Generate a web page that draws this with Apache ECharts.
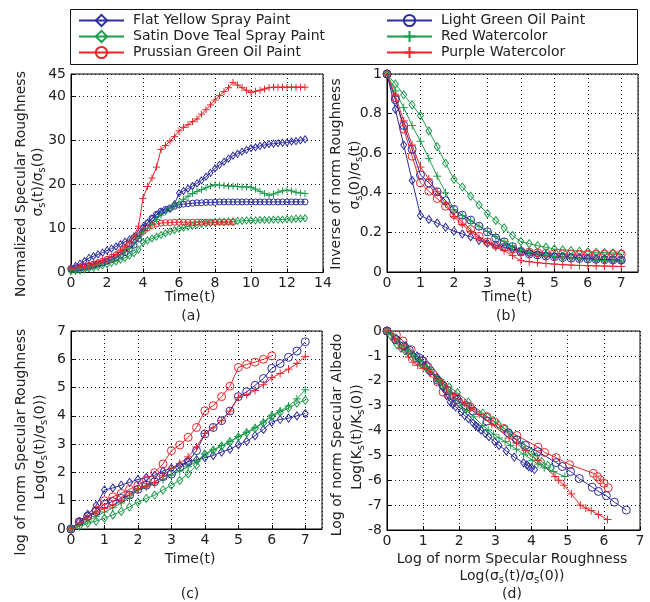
<!DOCTYPE html>
<html><head><meta charset="utf-8">
<script src="https://cdn.jsdelivr.net/npm/echarts/dist/echarts.min.js"></script>
<style>html,body{margin:0;padding:0;background:#fff}#c{width:650px;height:602px}</style>
</head><body><div id="c"></div>
<script>
// ---------- data ----------
const seriesNames = ['Flat Yellow Spray Paint','Satin Dove Teal Spray Paint','Prussian Green Oil Paint','Light Green Oil Paint','Red Watercolor','Purple Watercolor'];

// panel (a): time axis 0..13
const tA = [0,0.25,0.5,0.75,1,1.25,1.5,1.75,2,2.25,2.5,2.75,3,3.25,3.5,3.75,4,4.25,4.5,4.75,5,5.25,5.5,5.75,6,6.25,6.5,6.75,7,7.25,7.5,7.75,8,8.25,8.5,8.75,9,9.25,9.5,9.75,10,10.25,10.5,10.75,11,11.25,11.5,11.75,12,12.25,12.5,12.75,13];
const flatA = [1.0,1.5,2.0,2.6,3.3,3.7,4.1,4.5,5.0,5.4,5.9,6.4,7.0,7.5,8.1,8.8,10.3,11.3,12.2,13.0,13.6,14.0,14.4,15.5,18.0,18.5,19.0,19.6,20.2,20.9,21.7,22.6,23.6,24.4,25.1,25.8,26.5,26.9,27.4,27.8,28.2,28.4,28.7,28.9,29.1,29.2,29.3,29.4,29.5,29.7,29.8,30.0,30.2];
const satinA = [0.3,0.4,0.5,0.7,0.9,1.1,1.3,1.6,1.9,2.2,2.5,2.9,3.3,3.8,4.4,5.2,6.8,7.3,7.7,8.1,8.5,8.9,9.3,9.6,9.9,10.2,10.4,10.6,10.8,11.0,11.1,11.2,11.4,11.5,11.5,11.6,11.6,11.7,11.7,11.8,11.8,11.8,11.9,11.9,11.9,12.0,12.0,12.0,12.1,12.1,12.2,12.2,12.3];
const prussA = [0.9,1.0,1.2,1.4,1.6,1.9,2.2,2.6,3.0,3.5,4.0,4.7,5.5,6.4,7.4,8.3,9.3,10.1,10.7,11.0,11.2,11.3,11.3,11.4,11.4,11.4,11.4,11.4,11.4,11.4,11.4,11.4,11.4,11.4,11.4,11.4,11.4];
const lgreenA = [0.8,0.9,1.0,1.2,1.4,1.6,1.9,2.2,2.6,3.0,3.4,3.9,4.5,5.3,6.2,7.6,10.0,11.2,12.3,13.2,13.9,14.3,14.6,15.0,15.3,15.5,15.6,15.7,15.8,15.8,15.9,15.9,15.9,16.0,16.0,16.0,16.0,16.0,16.0,16.0,16.0,16.0,16.0,16.0,16.0,16.0,16.0,16.0,16.0,16.0,16.0,16.0,16.0];
const redwA = [0.5,0.6,0.8,1.0,1.2,1.5,1.8,2.1,2.5,2.9,3.4,4.0,4.7,5.5,6.5,7.8,9.0,10.0,11.0,12.0,13.0,13.8,14.6,15.2,15.8,16.6,17.3,17.9,18.4,18.8,19.2,19.6,19.9,19.8,19.7,19.6,19.6,19.5,19.4,19.4,19.3,18.9,18.4,17.9,17.5,17.8,18.2,18.5,18.7,18.5,18.2,18.0,17.9];
const purpA = [1.0,1.1,1.2,1.4,1.6,1.9,2.2,2.6,3.0,3.5,4.1,4.9,5.8,7.0,8.3,10.5,16.8,19.5,21.4,23.9,27.9,28.8,29.8,30.8,32.1,32.9,33.5,34.2,34.8,35.9,36.9,38.0,39.1,40.1,41.0,41.9,43.1,42.5,41.9,41.3,40.8,41.1,41.3,41.6,41.9,42.0,42.0,42.0,42.0,42.0,42.0,42.0,42.0];

// panels (b),(c): time axis 0..7
const tB = [0,0.25,0.5,0.75,1,1.25,1.5,1.75,2,2.25,2.5,2.75,3,3.25,3.5,3.75,4,4.25,4.5,4.75,5,5.25,5.5,5.75,6,6.25,6.5,6.75,7];
const flatB = [1.0,0.822,0.641,0.462,0.285,0.265,0.247,0.226,0.206,0.192,0.178,0.16,0.145,0.135,0.125,0.115,0.105,0.097,0.09,0.085,0.08,0.077,0.074,0.071,0.068,0.065,0.063,0.06,0.058];
const satinB = [1.0,0.95,0.895,0.844,0.79,0.712,0.633,0.549,0.468,0.429,0.383,0.339,0.295,0.26,0.223,0.184,0.154,0.143,0.133,0.125,0.116,0.112,0.108,0.105,0.102,0.1,0.098,0.096,0.095];
const prussB = [1.0,0.88,0.722,0.585,0.45,0.408,0.371,0.332,0.29,0.253,0.214,0.18,0.152,0.135,0.125,0.115,0.105,0.1,0.097,0.095,0.093,0.092,0.091,0.09,0.09,0.09,0.09,0.09,0.09];
const lgreenB = [1.0,0.87,0.74,0.62,0.49,0.45,0.405,0.36,0.316,0.287,0.262,0.231,0.203,0.172,0.152,0.128,0.1,0.092,0.086,0.081,0.077,0.073,0.07,0.068,0.066,0.064,0.062,0.061,0.06];
const redwB = [1.0,0.915,0.83,0.74,0.66,0.574,0.484,0.40,0.315,0.285,0.258,0.232,0.205,0.18,0.155,0.13,0.11,0.1,0.092,0.085,0.078,0.073,0.07,0.066,0.063,0.06,0.058,0.056,0.055];
const purpB = [1.0,0.89,0.763,0.641,0.53,0.47,0.405,0.345,0.28,0.24,0.205,0.17,0.147,0.125,0.108,0.083,0.057,0.052,0.047,0.043,0.04,0.037,0.035,0.033,0.032,0.031,0.03,0.029,0.028];

const flatC = [0,0.25,0.52,0.83,1.38,1.45,1.55,1.65,1.75,1.82,1.9,2.05,2.15,2.25,2.38,2.45,2.52,2.6,2.72,2.82,2.98,3.1,3.3,3.52,3.78,3.87,3.92,4.0,4.08];
const satinC = [0,0.1,0.2,0.28,0.38,0.5,0.62,0.78,0.95,1.08,1.2,1.38,1.55,1.72,1.95,2.25,2.65,2.78,2.93,3.08,3.25,3.4,3.55,3.75,3.98,4.13,4.28,4.45,4.55];
const prussC = [0,0.26,0.44,0.67,1.0,1.14,1.26,1.4,1.55,1.73,1.99,2.3,2.77,2.97,3.24,3.59,4.18,4.36,4.68,5.05,5.71,5.82,5.9,6.0,6.12];
const lgreenC = [0,0.25,0.45,0.62,0.88,0.97,1.08,1.2,1.4,1.55,1.67,1.85,1.94,2.18,2.38,2.77,3.36,3.59,3.83,4.17,4.68,4.85,5.08,5.32,5.68,5.85,6.07,6.29,6.62];
const redwC = [0,0.12,0.28,0.45,0.6,0.75,0.92,1.1,1.38,1.48,1.6,1.75,1.9,2.05,2.2,2.4,2.65,2.8,2.95,3.1,3.27,3.42,3.58,3.78,4.02,4.18,4.35,4.6,4.92];
const purpC = [0,0.2,0.4,0.6,0.72,0.85,1.0,1.2,1.4,1.52,1.65,1.88,2.15,2.32,2.55,2.9,3.38,3.58,3.83,4.17,4.65,4.75,4.9,5.1,5.35,5.5,5.65,5.85,6.1];

// panel (d): x = log roughness (panel c values), y = log albedo
const flatD = [0,-0.3,-0.6,-1.0,-1.85,-2.0,-2.25,-2.6,-2.85,-2.95,-3.05,-3.25,-3.4,-3.52,-3.7,-3.8,-3.88,-3.98,-4.12,-4.25,-4.45,-4.6,-4.82,-5.07,-5.3,-5.38,-5.45,-5.5,-5.57];
const satinD = [0,-0.18,-0.38,-0.55,-0.68,-0.8,-0.92,-1.1,-1.32,-1.48,-1.65,-1.9,-2.1,-2.25,-2.48,-2.85,-3.3,-3.45,-3.6,-3.75,-3.92,-4.1,-4.35,-4.6,-4.88,-5.05,-5.25,-5.4,-5.5];
const prussD = [0,-0.15,-0.4,-0.75,-1.2,-1.45,-1.7,-2.05,-2.45,-2.6,-2.85,-3.05,-3.45,-3.65,-3.92,-4.2,-4.67,-4.88,-5.09,-5.37,-5.72,-5.85,-5.98,-6.12,-6.3];
const lgreenD = [0,-0.35,-0.6,-0.78,-1.07,-1.2,-1.38,-1.6,-1.98,-2.2,-2.4,-2.65,-2.75,-3.0,-3.22,-3.62,-4.1,-4.38,-4.6,-4.85,-5.29,-5.45,-5.65,-5.93,-6.28,-6.45,-6.62,-6.88,-7.2];
const redwD = [0,-0.15,-0.35,-0.6,-0.8,-1.0,-1.2,-1.45,-1.9,-2.1,-2.3,-2.5,-2.75,-3.0,-3.2,-3.45,-3.8,-3.98,-4.15,-4.3,-4.45,-4.6,-4.75,-4.95,-5.2,-5.35,-5.5,-5.65,-5.85];
const purpD = [0,-0.35,-0.7,-1.05,-1.25,-1.38,-1.5,-1.7,-1.9,-2.05,-2.25,-2.55,-2.9,-3.1,-3.35,-3.75,-4.3,-4.5,-4.8,-5.2,-5.85,-6.0,-6.2,-6.55,-7.0,-7.12,-7.22,-7.38,-7.58];

// ---------- styling ----------
const F = 'DejaVu Sans';
const TXT = '#222';
const BLUE = '#2e2e9e', GREEN = '#1d9c4c', RED = '#e8262b';
const colors = [BLUE, GREEN, RED, BLUE, GREEN, RED];
const markers = ['diamond','diamond','circle','circle','plus','plus'];
const symbolOf = {diamond:'diamond', circle:'circle', plus:'path://M0,5L10,5M5,0L5,10'};
const sizeSmall = {diamond:[5,7], circle:6, plus:7};
const sizeBig = {diamond:[6,8], circle:8, plus:8};

const aVals = [flatA, satinA, prussA, lgreenA, redwA, purpA];
const bVals = [flatB, satinB, prussB, lgreenB, redwB, purpB];
const cVals = [flatC, satinC, prussC, lgreenC, redwC, purpC];
const dVals = [flatD, satinD, prussD, lgreenD, redwD, purpD];

function pairs(xs, ys){ return ys.map((y,i)=>[xs[i], y]); }

function mkSeries(k, gi, data, sizes){
  return {
    type:'line', name: seriesNames[k], xAxisIndex: gi, yAxisIndex: gi, data,
    symbol: symbolOf[markers[k]], symbolSize: sizes[markers[k]],
    showSymbol: true, showAllSymbol: true, animation: false, silent: true,
    lineStyle: {color: colors[k], width: 1},
    itemStyle: {color: 'rgba(255,255,255,0)', borderColor: colors[k], borderWidth: 1},
    emphasis: {disabled: true}
  };
}

const series = [];
for (let k = 0; k < 6; k++) {
  const tx = (k === 2) ? tA.slice(0, prussA.length) : tA;
  series.push(mkSeries(k, 0, pairs(tx, aVals[k]), sizeSmall));
}
for (let k = 0; k < 6; k++) series.push(mkSeries(k, 1, pairs(tB, bVals[k]), sizeBig));
for (let k = 0; k < 6; k++) series.push(mkSeries(k, 2, pairs(tB, cVals[k]), sizeBig));
for (let k = 0; k < 6; k++) series.push(mkSeries(k, 3, pairs(cVals[k], dVals[k]), sizeBig));

function grid(left, top, width, height){
  return {left, top, width, height, show: true, borderColor: '#000', borderWidth: 1,
    backgroundColor: 'rgba(0,0,0,0)', containLabel: false, outerBoundsMode: 'none'};
}
function axis(gi, min, max, interval, isX, hideMax){
  return {
    type: 'value', gridIndex: gi, min, max, interval,
    position: isX ? 'bottom' : 'left',
    axisLine: {show: true, onZero: false, lineStyle: {color: '#000', width: 1}},
    axisTick: {show: true, inside: true, length: 4, lineStyle: {color: '#000', width: 1}},
    axisLabel: {color: TXT, fontSize: 14, fontFamily: F, margin: isX ? 4 : 5, showMaxLabel: !hideMax, showMinLabel: true},
    splitLine: {show: true, lineStyle: {color: '#111', type: [1, 3], width: 1}}
  };
}

const RICH = {
  n: {fontSize: 14, fontFamily: F, color: TXT, lineHeight: 18},
  s: {fontSize: 10, fontFamily: F, color: TXT, lineHeight: 10, verticalAlign: 'bottom'}
};
function txt(x, y, text, rot){
  return {type: 'text', x, y, rotation: rot ? Math.PI / 2 : 0, silent: true,
    style: {text, fill: TXT, font: '14px "' + F + '"', align: 'center', verticalAlign: 'middle', rich: RICH}};
}

const graphics = [
  {type: 'rect', shape: {x: 70.5, y: 9.5, width: 567, height: 55}, style: {fill: 'none', stroke: '#111', lineWidth: 1}, silent: true},
  txt(21, 184, '{n|Normalized Specular Roughness}', true),
  txt(38, 182, '{n|σ}{s|s}{n|(t)/σ}{s|s}{n|(0)}', true),
  txt(190, 297, '{n|Time(t)}'),
  txt(191, 316, '{n|(a)}'),
  txt(336, 174, '{n|Inverse of norm Roughness}', true),
  txt(355, 175, '{n|σ}{s|s}{n|(0)/σ}{s|s}{n|(t)}', true),
  txt(507, 297, '{n|Time(t)}'),
  txt(506, 316, '{n|(b)}'),
  txt(21, 442, '{n|log of norm Specular Roughness}', true),
  txt(40, 447, '{n|Log(σ}{s|s}{n|(t)/σ}{s|s}{n|(0))}', true),
  txt(190, 559, '{n|Time(t)}'),
  txt(190, 594, '{n|(c)}'),
  txt(337, 435, '{n|Log of norm Specular Albedo}', true),
  txt(357, 437, '{n|Log(K}{s|s}{n|(t)/K}{s|s}{n|(0))}', true),
  txt(512, 559, '{n|Log of norm Specular Roughness}'),
  txt(512, 576, '{n|Log(σ}{s|s}{n|(t)/σ}{s|s}{n|(0))}'),
  txt(512, 594, '{n|(d)}')
];

function legend(left, names){
  return {show: true, orient: 'vertical', left, top: 13.5, padding: 0,
    itemWidth: 45, itemHeight: 14, itemGap: 2, selectedMode: false, data: names,
    textStyle: {fontSize: 14, fontFamily: F, color: TXT, padding: [0, 0, 0, 4], lineHeight: 14}};
}

const option = {
  animation: false,
  backgroundColor: '#fff',
  textStyle: {fontFamily: F},
  legend: [legend(78, seriesNames.slice(0, 3)), legend(386, seriesNames.slice(3, 6))],
  grid: [grid(71, 74, 252, 198.5), grid(387, 74, 251, 198), grid(71, 331, 251, 198), grid(387, 331, 253, 199)],
  xAxis: [axis(0, 0, 14, 2, true), axis(1, 0, 7.5, 1, true, true), axis(2, 0, 7.5, 1, true, true), axis(3, 0, 7, 1, true)],
  yAxis: [axis(0, 0, 45, 10, false), axis(1, 0, 1, 0.2, false), axis(2, 0, 7, 1, false), axis(3, -8, 0, 1, false)],
  graphic: graphics,
  series
};

const chart = echarts.init(document.getElementById('c'), null, {renderer: 'canvas'});
chart.setOption(option);
</script>
</body></html>
